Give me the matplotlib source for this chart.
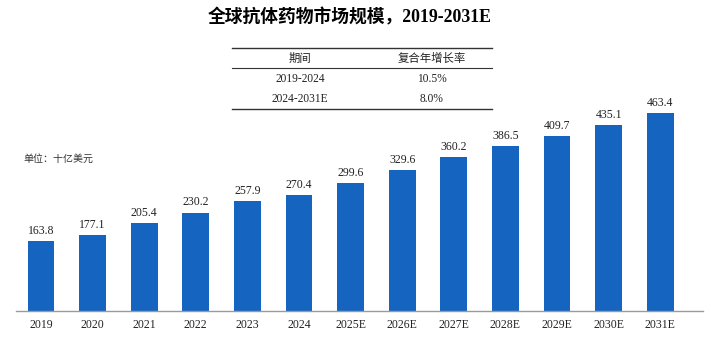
import numpy as np
import matplotlib
matplotlib.use('Agg')
import matplotlib.pyplot as plt
from matplotlib.lines import Line2D

years = ['2019', '2020', '2021', '2022', '2023', '2024', '2025E', '2026E',
         '2027E', '2028E', '2029E', '2030E', '2031E']
market_size = [163.8, 177.1, 205.4, 230.2, 257.9, 270.4, 299.6, 329.6,
               360.2, 386.5, 409.7, 435.1, 463.4]

table_header = ['期间', '复合年增长率']
table_periods = ['2019-2024', '2024-2031E']
table_cagr = ['10.5%', '8.0%']

title = '全球抗体药物市场规模，2019-2031E'
unit_label = '单位：十亿美元'

SERIF = ['Liberation Serif', 'Noto Sans CJK SC']
CJK = ['Noto Sans CJK SC', 'Liberation Serif']
BAR_COLOR = '#1565c0'

W, H = 708, 341
fig = plt.figure(figsize=(W / 100, H / 100), dpi=100)

def fx(px):
    return px / W

def fy(py):
    return 1 - py / H

# axes placed in pixel space of the reference
ax_left, ax_right, ax_bottom, ax_top = 16, 703, 311, 40
ax = fig.add_axes([fx(ax_left), fy(ax_bottom), fx(ax_right - ax_left), (ax_bottom - ax_top) / H])

x = np.arange(len(years))
step = 51.6
first_center = 41
ax.set_xlim((ax_left - first_center) / step, (ax_right - first_center) / step)
px_per_unit = 0.4275
ax.set_ylim(0, (ax_bottom - ax_top) / px_per_unit)

bars = ax.bar(x, market_size, width=0.52, color=BAR_COLOR, zorder=2)
for xi, v in zip(x, market_size):
    ax.annotate('%.1f' % v, (xi, v), xytext=(0, 3), textcoords='offset points',
                ha='center', va='bottom', fontsize=8.5, family=SERIF, color='#222222')

for s in ['top', 'right', 'left']:
    ax.spines[s].set_visible(False)
ax.spines['bottom'].set_color('#9a9a9a')
ax.spines['bottom'].set_linewidth(1.0)
ax.set_yticks([])
ax.set_xticks(x)
ax.set_xticklabels(years, family=SERIF, fontsize=8.5, color='#222222')
ax.tick_params(axis='x', length=0, pad=6)

# title
fig.text(fx(350), fy(17), title, ha='center', va='center', fontsize=12.8,
         fontweight='bold', family=SERIF)

# small growth table
for py, lw in [(48, 1.0), (68, 0.8), (109, 1.0)]:
    fig.add_artist(Line2D([fx(232), fx(492)], [fy(py), fy(py)], color='#333333', lw=lw))

col_x = [fx(300), fx(432)]
fig.text(col_x[0], fy(58), table_header[0], ha='center', va='center', fontsize=8.2,
         family=CJK, fontweight='medium', color='#222222')
fig.text(col_x[1], fy(58), table_header[1], ha='center', va='center', fontsize=8.2,
         family=CJK, fontweight='medium', color='#222222')
for i, (p, c) in enumerate(zip(table_periods, table_cagr)):
    yy = fy(79 + 20.5 * i)
    fig.text(col_x[0], yy, p, ha='center', va='center', fontsize=8.3, family=SERIF,
             color='#222222')
    fig.text(col_x[1], yy, c, ha='center', va='center', fontsize=8.3, family=SERIF,
             color='#222222')

fig.text(fx(23), fy(159), unit_label, ha='left', va='center', fontsize=7.2,
         family=CJK, color='#333333')

fig.savefig('out.png', dpi=100, facecolor='white')
